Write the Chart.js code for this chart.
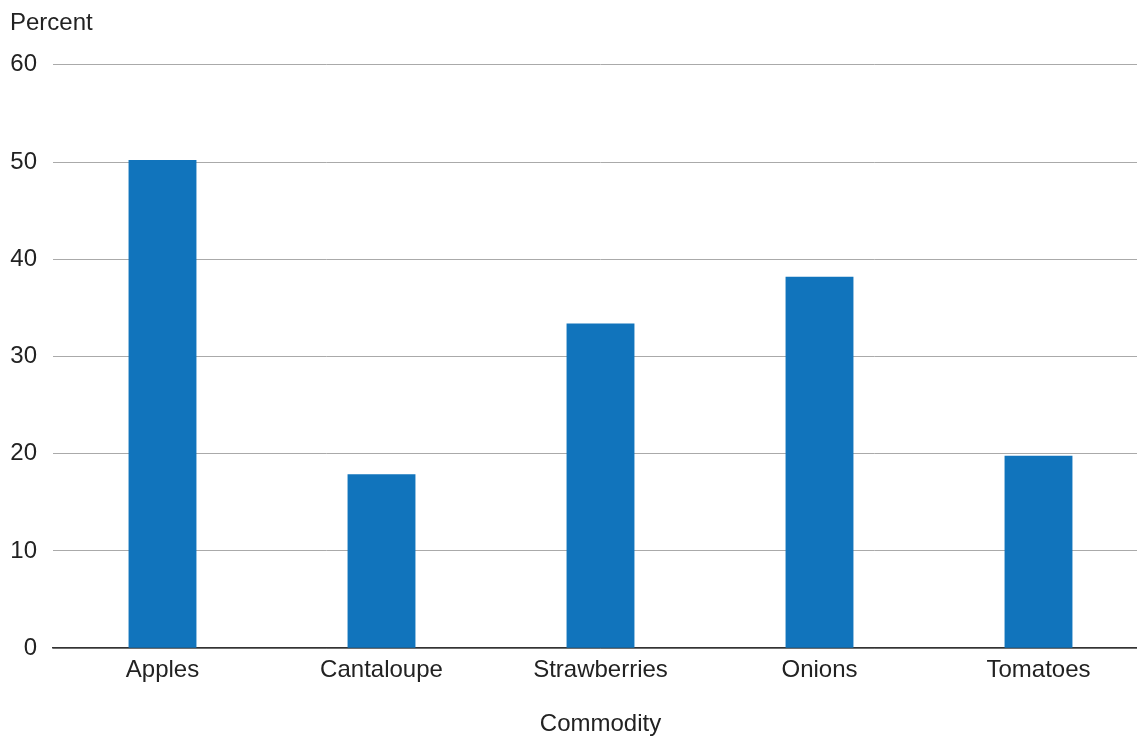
<!DOCTYPE html>
<html>
<head>
<meta charset="utf-8">
<script src="https://cdn.jsdelivr.net/npm/chart.js@4"></script>
<style>
  html, body { margin: 0; padding: 0; background: #fff; overflow: hidden; }
  /* the plot runs slightly past the right edge, so the canvas is wider than the frame */
  #wrap { width: 1137px; height: 736px; overflow: hidden; }
</style>
</head>
<body>
<div id="wrap"><canvas id="chart" width="1148" height="736"></canvas></div>
<script>
const commodities = ["Apples", "Cantaloupe", "Strawberries", "Onions", "Tomatoes"]
const percentShare = [50.2, 17.9, 33.4, 38.2, 19.8]
const yTicks = [0, 10, 20, 30, 40, 50, 60]

const font = { family: "'Liberation Sans', Arial, Helvetica, sans-serif", size: 24 }

new Chart(document.getElementById("chart"), {
  type: "bar",
  data: {
    labels: commodities,
    datasets: [{
      label: "Percent",
      data: percentShare,
      backgroundColor: "#1174bc", // blue
      categoryPercentage: 1,
      barPercentage: 0.31
    }]
  },
  options: {
    responsive: false,
    animation: false,
    layout: { padding: { left: 10, right: 0, top: 0, bottom: 0 } },
    plugins: {
      legend: { display: false },
      tooltip: { enabled: false },
      title: {
        display: true,
        text: "Percent",
        align: "start",
        color: "#222",
        font: { ...font, weight: "normal" },
        padding: { top: 9, bottom: 27 }
      }
    },
    scales: {
      x: {
        grid: { display: false },
        border: { display: true, color: "#333", width: 1.5 },
        ticks: { color: "#222", font: font, padding: 0 },
        title: {
          display: true,
          text: "Commodity",
          color: "#222",
          font: { ...font, lineHeight: 1 },
          padding: { top: 27, bottom: 0 }
        }
      },
      y: {
        min: 0,
        max: 60,
        afterBuildTicks: axis => { axis.ticks = yTicks.map(v => ({ value: v })) },
        // fixed width keeps the labels flush with the left margin
        afterFit: axis => { axis.width = 43 },
        grid: { color: "#aaa", lineWidth: 1, drawTicks: false },
        border: { display: false },
        ticks: { color: "#222", font: font, padding: 16 }
      }
    }
  }
})
</script>
</body>
</html>
